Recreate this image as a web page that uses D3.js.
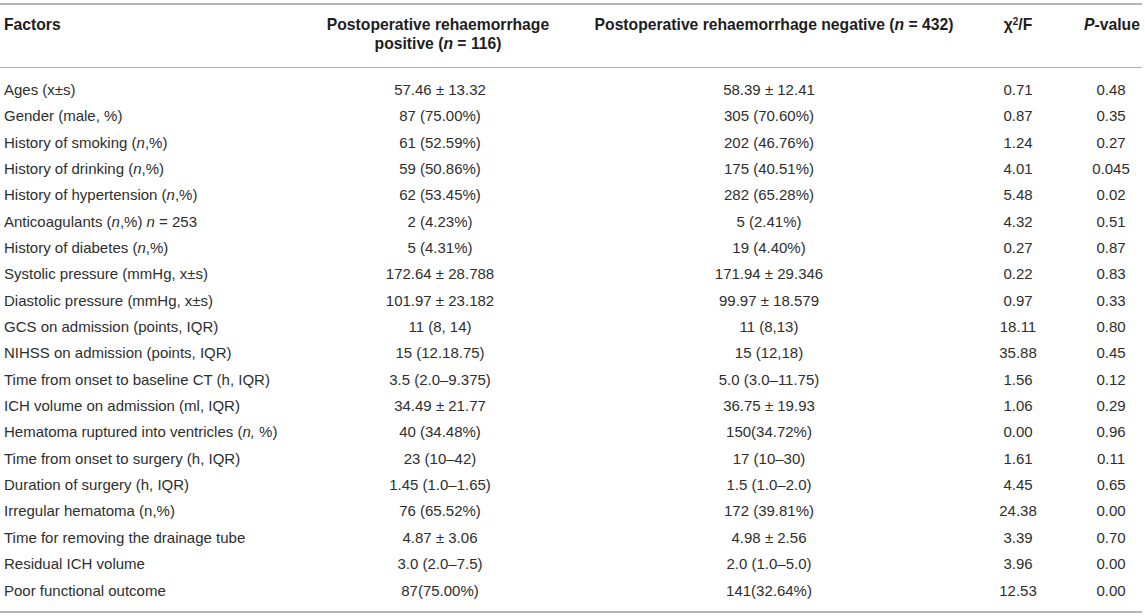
<!DOCTYPE html>
<html>
<head>
<meta charset="utf-8">
<script src="https://cdn.jsdelivr.net/npm/d3@7"></script>
<style>
  body { margin: 0; background: #fff; }
  svg { display: block; font-family: "Liberation Sans", Arial, sans-serif; }
</style>
</head>
<body>
<svg width="1145" height="616"></svg>
<script>
// table contents, *x* marks italic text
const factors = [
  "Ages (x±s)",
  "Gender (male, %)",
  "History of smoking (*n*,%)",
  "History of drinking (*n*,%)",
  "History of hypertension (*n*,%)",
  "Anticoagulants (*n*,%) *n* = 253",
  "History of diabetes (*n*,%)",
  "Systolic pressure (mmHg, x±s)",
  "Diastolic pressure (mmHg, x±s)",
  "GCS on admission (points, IQR)",
  "NIHSS on admission (points, IQR)",
  "Time from onset to baseline CT (h, IQR)",
  "ICH volume on admission (ml, IQR)",
  "Hematoma ruptured into ventricles (*n,* %)",
  "Time from onset to surgery (h, IQR)",
  "Duration of surgery (h, IQR)",
  "Irregular hematoma (n,%)",
  "Time for removing the drainage tube",
  "Residual ICH volume",
  "Poor functional outcome"
]

const positive = [
  "57.46 ± 13.32", "87 (75.00%)", "61 (52.59%)", "59 (50.86%)", "62 (53.45%)",
  "2 (4.23%)", "5 (4.31%)", "172.64 ± 28.788", "101.97 ± 23.182", "11 (8, 14)",
  "15 (12.18.75)", "3.5 (2.0–9.375)", "34.49 ± 21.77", "40 (34.48%)", "23 (10–42)",
  "1.45 (1.0–1.65)", "76 (65.52%)", "4.87 ± 3.06", "3.0 (2.0–7.5)", "87(75.00%)"
]

const negative = [
  "58.39 ± 12.41", "305 (70.60%)", "202 (46.76%)", "175 (40.51%)", "282 (65.28%)",
  "5 (2.41%)", "19 (4.40%)", "171.94 ± 29.346", "99.97 ± 18.579", "11 (8,13)",
  "15 (12,18)", "5.0 (3.0–11.75)", "36.75 ± 19.93", "150(34.72%)", "17 (10–30)",
  "1.5 (1.0–2.0)", "172 (39.81%)", "4.98 ± 2.56", "2.0 (1.0–5.0)", "141(32.64%)"
]

const chiF = [
  "0.71", "0.87", "1.24", "4.01", "5.48", "4.32", "0.27", "0.22", "0.97", "18.11",
  "35.88", "1.56", "1.06", "0.00", "1.61", "4.45", "24.38", "3.39", "3.96", "12.53"
]

const pValues = [
  "0.48", "0.35", "0.27", "0.045", "0.02", "0.51", "0.87", "0.83", "0.33", "0.80",
  "0.45", "0.12", "0.29", "0.96", "0.11", "0.65", "0.00", "0.70", "0.00", "0.00"
]

const headers = [
  ["Factors"],
  ["Postoperative rehaemorrhage", "positive (*n* = 116)"],
  ["Postoperative rehaemorrhage negative (*n* = 432)"],
  ["χ^2^/F"],
  ["*P*-value"]
]

const svg = d3.select("svg")
const width = +svg.attr("width")
const height = +svg.attr("height")

const columns = [
  { values: factors, x: 4, anchor: "start" },
  { values: positive, x: 440, anchor: "middle" },
  { values: negative, x: 769, anchor: "middle" },
  { values: chiF, x: 1018, anchor: "middle" },
  { values: pValues, x: 1111, anchor: "middle" }
]
const headerX = [4, 438, 774, 1018, 1112]

// one row per factor, baselines spread evenly
const y = d3.scalePoint()
  .domain(d3.range(factors.length))
  .range([95, 595.5])

// write a string into a text element, splitting italic / superscript bits
function rich(text, str) {
  str.split(/(\*[^*]+\*|\^[^^]+\^)/).filter(s => s.length).forEach(part => {
    if (part[0] === "*") {
      text.append("tspan").attr("font-style", "italic").text(part.slice(1, -1))
    } else if (part[0] === "^") {
      text.append("tspan").attr("baseline-shift", "super").attr("font-size", "10px").text(part.slice(1, -1))
    } else {
      text.append("tspan").text(part)
    }
  })
}

// rules
const rule = (yy, w) => svg.append("line")
  .attr("x1", 0).attr("x2", width - 3)
  .attr("y1", yy).attr("y2", yy)
  .attr("stroke", "#b4b4b4").attr("stroke-width", w)
rule(4, 2)
rule(67.5, 1.2)
rule(612, 2)

// header
const head = svg.append("g")
  .attr("font-weight", "bold")
  .attr("font-size", "15.7px")
  .attr("fill", "#1e1e1e")

headers.forEach((lines, c) => {
  lines.forEach((line, i) => {
    const t = head.append("text")
      .attr("x", headerX[c])
      .attr("y", 30 + i * 19)
      .attr("text-anchor", c === 0 ? "start" : "middle")
    rich(t, line)
  })
})

// body
const body = svg.append("g")
  .attr("font-size", "15px")
  .attr("fill", "#2e2e2e")

columns.forEach(col => {
  body.append("g")
    .selectAll("text")
    .data(col.values)
    .join("text")
      .attr("x", col.x)
      .attr("y", (d, i) => y(i))
      .attr("text-anchor", col.anchor)
      .each(function(d) { rich(d3.select(this), d) })
})
</script>
</body>
</html>
